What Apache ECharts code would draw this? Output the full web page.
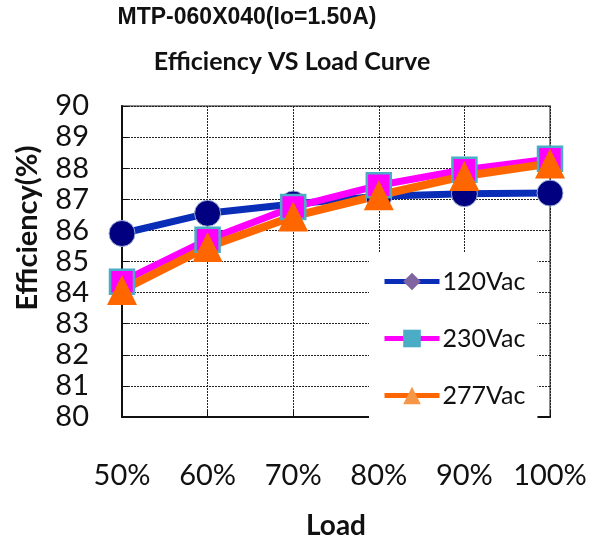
<!DOCTYPE html>
<html>
<head>
<meta charset="utf-8">
<script src="https://cdn.jsdelivr.net/npm/echarts@6/dist/echarts.min.js"></script>
<style>html,body{margin:0;padding:0;background:#fff}#c{width:608px;height:545px}</style>
</head>
<body>
<div id="c"></div>
<script>
var categories = ['50%', '60%', '70%', '80%', '90%', '100%'];
var v120 = [85.9, 86.55, 86.85, 87.1, 87.18, 87.2];
var v230 = [84.35, 85.7, 86.75, 87.45, 87.95, 88.3];
var v277 = [84.08, 85.47, 86.45, 87.13, 87.75, 88.15];
var seriesNames = ['120Vac', '230Vac', '277Vac'];
var yTicks = [80, 90, 1];

var chart = echarts.init(document.getElementById('c'));
var F = 'Lato, "Open Sans", sans-serif';
chart.setOption({
  animation: false,
  backgroundColor: '#fff',
  grid: {left: 122, right: 58, top: 106, bottom: 123, show: true, borderColor: '#8a8a8a', borderWidth: 2, backgroundColor: 'transparent'},
  xAxis: {
    type: 'category', data: categories, boundaryGap: false,
    axisLine: {lineStyle: {color: '#111', width: 2}},
    axisTick: {show: true, inside: true, length: 6, interval: 0, lineStyle: {color: '#111'}},
    axisLabel: {color: '#111', fontFamily: F, fontSize: 29, margin: 44, interval: 0},
    splitLine: {show: true, interval: 0, lineStyle: {color: '#222', type: [2, 1], width: 1}},
    name: 'Load', nameLocation: 'middle', nameGap: 95,
    nameTextStyle: {color: '#111', fontFamily: F, fontSize: 28, fontWeight: 'bold'}
  },
  yAxis: {
    type: 'value', min: yTicks[0], max: yTicks[1], interval: yTicks[2],
    axisLine: {show: true, lineStyle: {color: '#111', width: 2}},
    axisTick: {show: true, inside: true, length: 6, lineStyle: {color: '#111'}},
    axisLabel: {color: '#111', fontFamily: F, fontSize: 29, margin: 33},
    splitLine: {show: true, lineStyle: {color: '#222', type: [2, 1], width: 1}}
  },
  legend: {
    orient: 'vertical', left: 369, top: 253, align: 'left',
    padding: [16, 12, 16, 13], backgroundColor: '#fff',
    itemWidth: 55, itemHeight: 22, itemGap: 32,
    lineStyle: {width: 5},
    textStyle: {color: '#111', fontFamily: F, fontSize: 25, padding: [0, 0, 0, -2]},
    data: seriesNames
  },
  graphic: [
    {type: 'text', x: 247, y: 18, style: {text: 'MTP-060X040(Io=1.50A)', fill: '#111', font: 'bold 23px "Liberation Sans", Arial, sans-serif', textAlign: 'center', textVerticalAlign: 'middle'}},
    {type: 'text', x: 292, y: 62, style: {text: 'Efficiency VS Load Curve', fill: '#111', font: 'bold 25px ' + F, textAlign: 'center', textVerticalAlign: 'middle'}},
    {type: 'text', x: 28, y: 228, rotation: Math.PI / 2, style: {text: 'Efficiency(%)', fill: '#111', font: 'bold 29px ' + F, textAlign: 'center', textVerticalAlign: 'middle'}}
  ],
  series: [
    {name: '120Vac curve', type: 'line', data: v120, symbol: 'circle', symbolSize: 26,
     lineStyle: {color: '#0a2db8', width: 7}, itemStyle: {color: '#000080', borderColor: '#9db0d8', borderWidth: 1}},
    {name: '230Vac curve', type: 'line', data: v230, symbol: 'rect', symbolSize: 24,
     lineStyle: {color: '#ff00ff', width: 7}, itemStyle: {color: '#ff00ff', borderColor: '#4bacc6', borderWidth: 2.5}},
    {name: '277Vac curve', type: 'line', data: v277, symbol: 'triangle', symbolSize: 30,
     lineStyle: {color: '#ff6600', width: 8}, itemStyle: {color: '#ff6600'}},
    {name: seriesNames[0], type: 'line', data: [], symbol: 'diamond',
     lineStyle: {color: '#0a2db8', width: 5}, itemStyle: {color: '#8064a2'}},
    {name: seriesNames[1], type: 'line', data: [], symbol: 'rect',
     lineStyle: {color: '#ff00ff', width: 5}, itemStyle: {color: '#4bacc6'}},
    {name: seriesNames[2], type: 'line', data: [], symbol: 'triangle',
     lineStyle: {color: '#ff6600', width: 5}, itemStyle: {color: '#f79646'}}
  ]
});
</script>
</body>
</html>
